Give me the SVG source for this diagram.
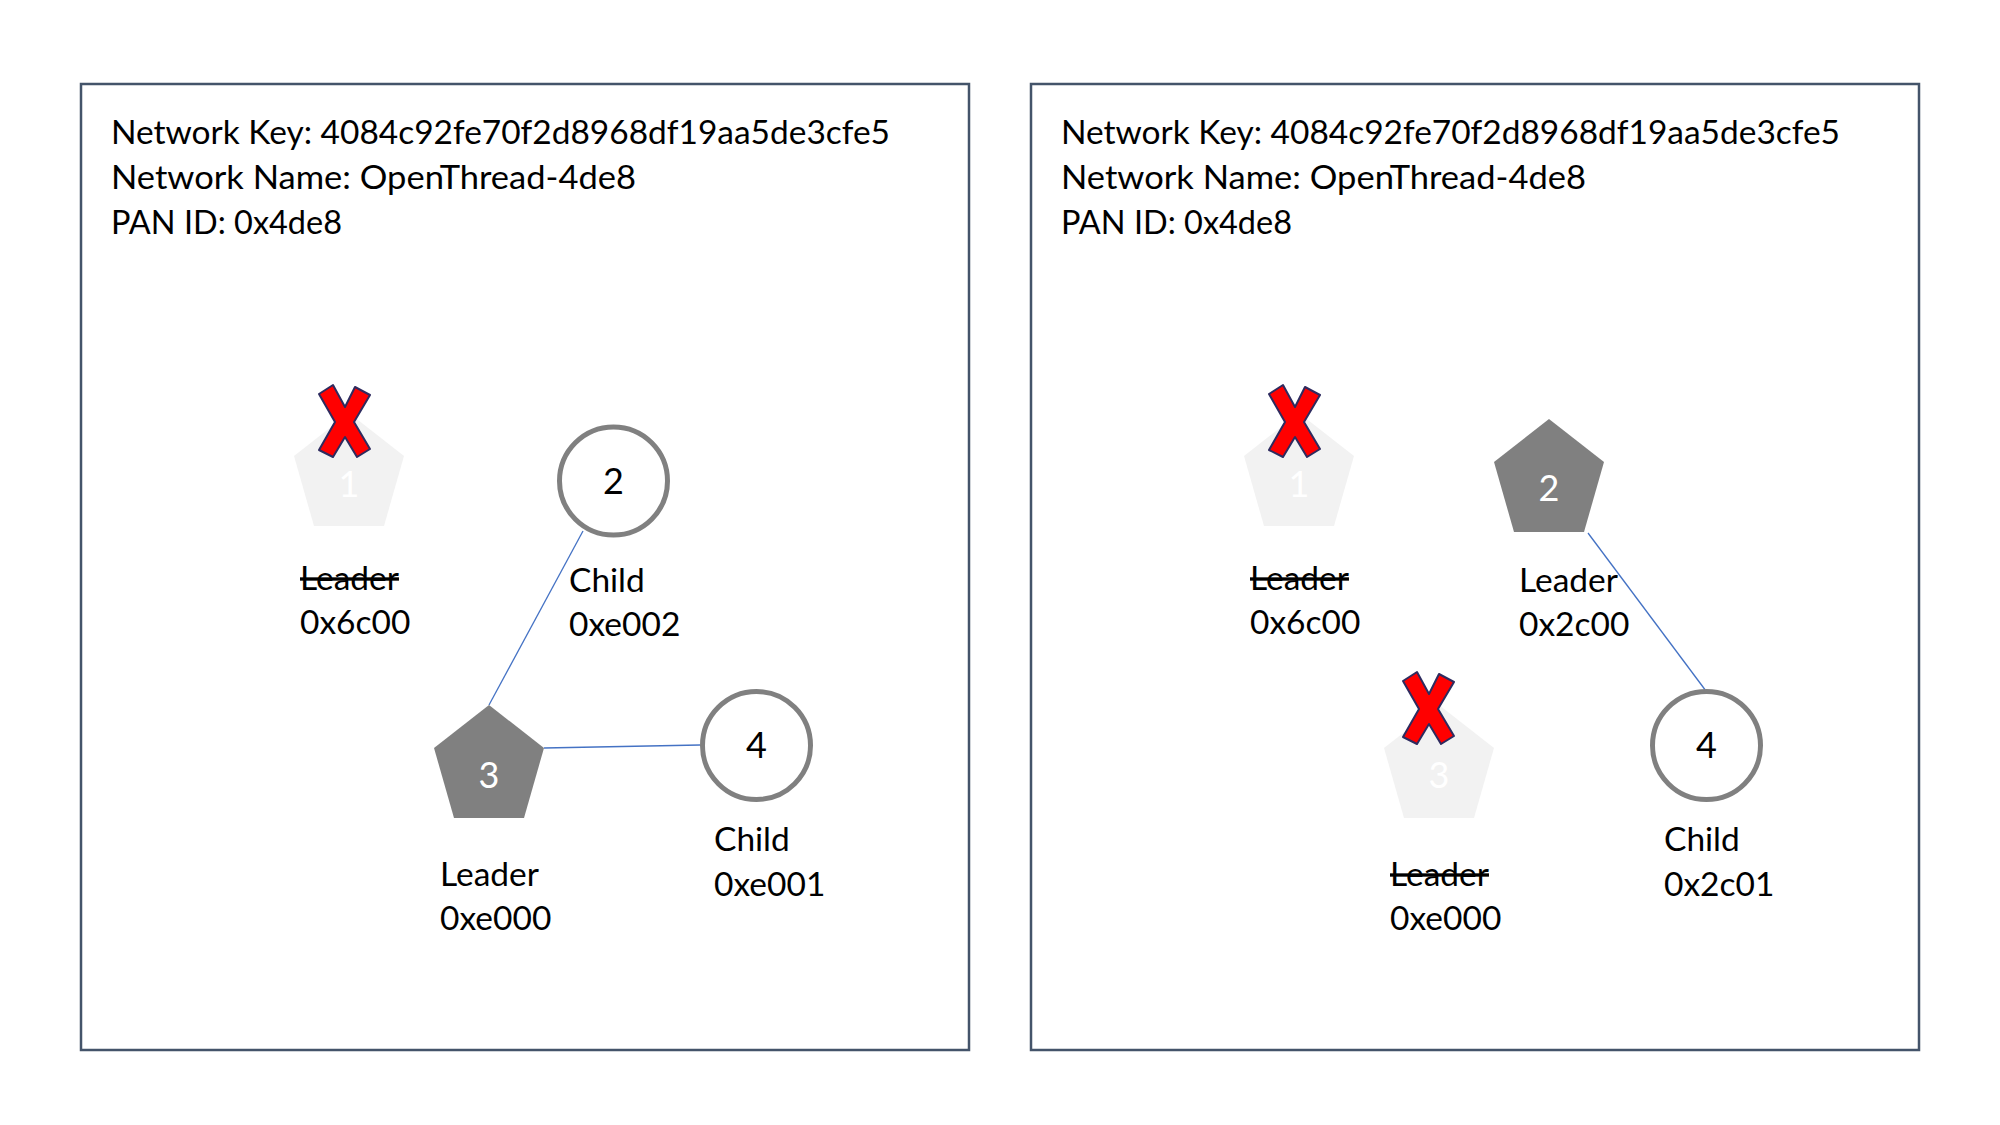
<svg xmlns="http://www.w3.org/2000/svg" width="2000" height="1125" viewBox="0 0 2000 1125">
<defs>
<style>
.frame{fill:#FFFFFF;stroke:#44546A;stroke-width:2.5}
.t{font-family:Lato,"Liberation Sans",sans-serif;font-size:33.5px;fill:#000000}
.num{font-family:Lato,"Liberation Sans",sans-serif;font-size:36px;text-anchor:middle}
.w{fill:#FFFFFF}
.k{fill:#000000}
.strike{text-decoration:line-through}
.pent-on{fill:#808080}
.pent-off{fill:#F2F2F2}
.circ{fill:#FFFFFF;stroke:#808080;stroke-width:5}
.link{stroke:#4472C4;stroke-width:1.3;fill:none}
.cross{fill:#FF0000;stroke:#2E2B5F;stroke-width:2;stroke-linejoin:round}
</style>
<polygon id="xmark" points="1,9 15,0 27,22 37,2 52,10 36,37 52,64 39,72 27,52 15,72 1,65 17,37"/>
</defs>
<rect width="2000" height="1125" fill="#FFFFFF"/>

<g id="panel-left">
<rect class="frame" x="81" y="84" width="888" height="966"/>
<text class="t" x="111" y="144" textLength="779" lengthAdjust="spacingAndGlyphs">Network Key: 4084c92fe70f2d8968df19aa5de3cfe5</text>
<text class="t" x="111" y="189" textLength="525" lengthAdjust="spacingAndGlyphs">Network Name: OpenThread-4de8</text>
<text class="t" x="111" y="234" textLength="231" lengthAdjust="spacingAndGlyphs">PAN ID: 0x4de8</text>
</g>

<g id="panel-right">
<rect class="frame" x="1031" y="84" width="888" height="966"/>
<text class="t" x="1061" y="144" textLength="779" lengthAdjust="spacingAndGlyphs">Network Key: 4084c92fe70f2d8968df19aa5de3cfe5</text>
<text class="t" x="1061" y="189" textLength="525" lengthAdjust="spacingAndGlyphs">Network Name: OpenThread-4de8</text>
<text class="t" x="1061" y="234" textLength="231" lengthAdjust="spacingAndGlyphs">PAN ID: 0x4de8</text>
</g>

<g id="connectors">
<line class="link" x1="583" y1="531" x2="489" y2="705"/>
<line class="link" x1="544" y1="748" x2="700" y2="745"/>
<line class="link" x1="1588" y1="533" x2="1706" y2="691"/>
</g>

<g id="L-node1">
<polygon class="pent-off" points="349,413 404,456 384,526 314,526 294,456"/>
<text class="num w" x="349" y="497">1</text>
<use href="#xmark" class="cross" transform="translate(318,385)"/>
<text class="t strike" x="300" y="590">Leader</text>
<text class="t" x="300" y="634">0x6c00</text>
</g>

<g id="L-node2">
<circle class="circ" cx="613.5" cy="481" r="54"/>
<text class="num k" x="613.5" y="494">2</text>
<text class="t" x="569" y="592">Child</text>
<text class="t" x="569" y="636">0xe002</text>
</g>

<g id="L-node3">
<polygon class="pent-on" points="489,705 544,748 524,818 454,818 434,748"/>
<text class="num w" x="489" y="788">3</text>
<text class="t" x="440" y="886">Leader</text>
<text class="t" x="440" y="930">0xe000</text>
</g>

<g id="L-node4">
<circle class="circ" cx="756.5" cy="745.5" r="54"/>
<text class="num k" x="756.5" y="758">4</text>
<text class="t" x="714" y="851">Child</text>
<text class="t" x="714" y="896">0xe001</text>
</g>

<g id="R-node1">
<polygon class="pent-off" points="1299,413 1354,456 1334,526 1264,526 1244,456"/>
<text class="num w" x="1299" y="497">1</text>
<use href="#xmark" class="cross" transform="translate(1268,385)"/>
<text class="t strike" x="1250" y="590">Leader</text>
<text class="t" x="1250" y="634">0x6c00</text>
</g>

<g id="R-node2">
<polygon class="pent-on" points="1549,419 1604,462 1584,532 1514,532 1494,462"/>
<text class="num w" x="1549" y="501">2</text>
<text class="t" x="1519" y="592">Leader</text>
<text class="t" x="1519" y="636">0x2c00</text>
</g>

<g id="R-node3">
<polygon class="pent-off" points="1439,705 1494,748 1474,818 1404,818 1384,748"/>
<text class="num w" x="1439" y="788">3</text>
<use href="#xmark" class="cross" transform="translate(1402,672)"/>
<text class="t strike" x="1390" y="886">Leader</text>
<text class="t" x="1390" y="930">0xe000</text>
</g>

<g id="R-node4">
<circle class="circ" cx="1706.5" cy="745.5" r="54"/>
<text class="num k" x="1706.5" y="758">4</text>
<text class="t" x="1664" y="851">Child</text>
<text class="t" x="1664" y="896">0x2c01</text>
</g>
</svg>
